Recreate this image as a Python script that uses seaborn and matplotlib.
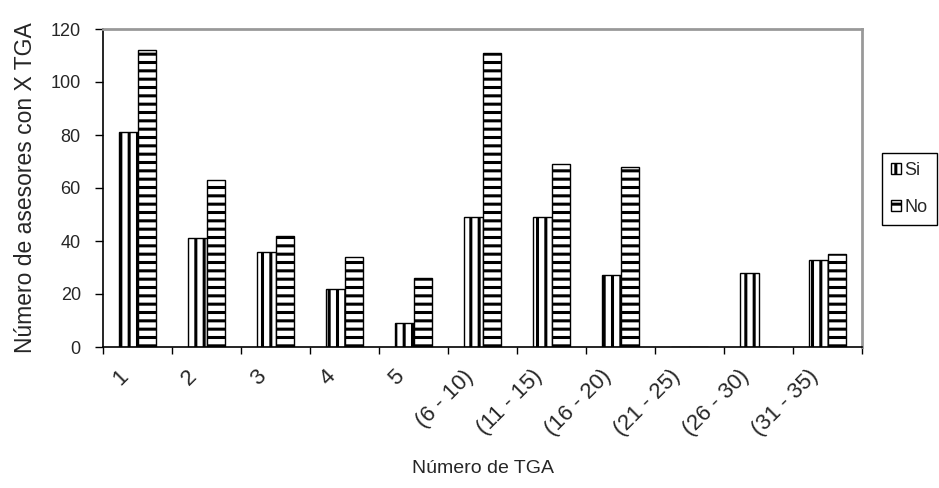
import matplotlib
matplotlib.use('Agg')
import matplotlib.pyplot as plt
import seaborn as sns
import pandas as pd
from matplotlib.patches import Patch
from matplotlib.transforms import ScaledTranslation

# ---- data ----
categories = ['1', '2', '3', '4', '5', '(6 - 10)', '(11 - 15)', '(16 - 20)',
              '(21 - 25)', '(26 - 30)', '(31 - 35)']
si_values = [81, 41, 36, 22, 9, 49, 49, 27, 0, 28, 33]
no_values = [112, 63, 42, 34, 26, 111, 69, 68, 0, 0, 35]
series = ['Si', 'No']
yticks = [0, 20, 40, 60, 80, 100, 120]
xlabel = 'Número de TGA'
ylabel = 'Número de asesores con X TGA'

sns.set_style('white')
plt.rcParams['font.family'] = ['Liberation Sans', 'DejaVu Sans']
plt.rcParams['hatch.linewidth'] = 2.2

df = pd.DataFrame({
    'cat': categories * 2,
    'val': si_values + no_values,
    'serie': ['Si'] * len(categories) + ['No'] * len(categories),
})

fig = plt.figure(figsize=(9.39, 4.88), dpi=100)
ax = fig.add_axes([103 / 939, 1 - 347 / 488, (862 - 103) / 939, (347 - 29) / 488])

sns.barplot(data=df, x='cat', y='val', hue='serie', order=categories,
            hue_order=series, width=0.55, palette=['white', 'white'],
            saturation=1, edgecolor='black', linewidth=1, ax=ax, legend=False)

hatches = {'Si': '||', 'No': '--'}
for cont, name in zip(ax.containers, series):
    for bar in cont:
        bar.set_hatch(hatches[name])
        bar.set_edgecolor('black')

ax.set_xlim(-0.5, len(categories) - 0.5)
ax.set_ylim(0, 120)
ax.set_yticks(yticks)
ax.set_yticklabels([str(v) for v in yticks], fontsize=13)
ax.set_xticks(range(len(categories)))
ax.set_xticklabels(categories, rotation=45, ha='right', va='center',
                   rotation_mode='anchor', fontsize=16)
ax.set_xticks([i - 0.5 for i in range(len(categories) + 1)], minor=True)
ax.tick_params(axis='x', which='major', length=0, pad=19)
ax.tick_params(axis='x', which='minor', length=5, width=1, color='black',
               direction='out', bottom=True)
ax.tick_params(axis='y', length=6, width=1, color='black', direction='out',
               left=True, pad=10)
for lab in ax.get_xticklabels():
    lab.set_transform(lab.get_transform() +
                      ScaledTranslation(-9 / 72, 0, fig.dpi_scale_trans))

for s in ['left', 'bottom']:
    ax.spines[s].set_color('black')
    ax.spines[s].set_linewidth(1.2)
for s in ['top', 'right']:
    ax.spines[s].set_color('#999999')
    ax.spines[s].set_linewidth(2)
    ax.spines[s].set_visible(True)

ax.set_xlabel(xlabel, fontsize=14, labelpad=14)
ax.set_ylabel(ylabel, fontsize=16.5, labelpad=10)

handles = [Patch(facecolor='white', edgecolor='black', hatch=hatches[n], label=n)
           for n in series]
leg = fig.legend(handles=handles, loc='center left',
                 bbox_to_anchor=(882 / 939, 1 - 189 / 488),
                 bbox_transform=fig.transFigure, borderaxespad=0,
                 fontsize=13, handlelength=0.55, handleheight=0.55,
                 handletextpad=0.2, labelspacing=1.1, borderpad=0.5,
                 frameon=True, fancybox=False, framealpha=1)
leg.get_frame().set_edgecolor('black')
leg.get_frame().set_linewidth(1)

fig.savefig('out.png', dpi=100)
